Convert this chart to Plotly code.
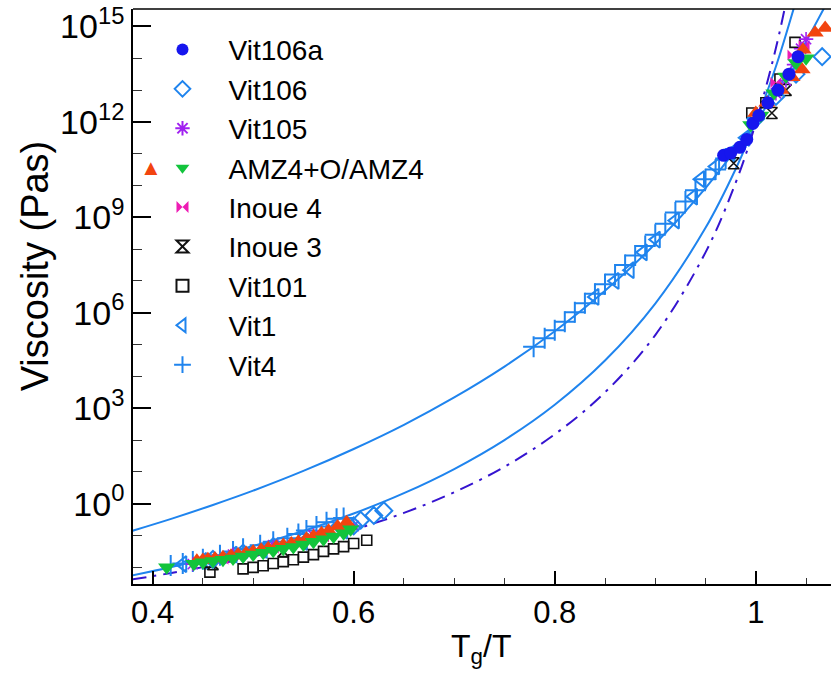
import numpy as np
import plotly.graph_objects as go

# ---------------- data (viscosity given as log10(Pa s)) -------------
# fit curves
upper_u = [0.38, 0.42, 0.46, 0.50, 0.55, 0.60, 0.65, 0.70, 0.75, 0.80, 0.85, 0.90, 0.95, 1.00, 1.03, 1.05, 1.07]
upper_log = [-0.85, -0.46, -0.04, 0.41, 1.03, 1.72, 2.48, 3.34, 4.31, 5.42, 6.69, 8.17, 9.92, 12.00, 13.45, 14.53, 15.70]

lower_u = [0.38, 0.42, 0.46, 0.50, 0.55, 0.60, 0.65, 0.70, 0.75, 0.80, 0.85, 0.90, 0.95, 0.98, 1.00, 1.02, 1.04]
lower_log = [-2.25, -1.98, -1.67, -1.33, -0.86, -0.31, 0.33, 1.09, 2.00, 3.11, 4.50, 6.29, 8.67, 10.52, 12.00, 13.74, 15.81]

dashdot_u = [0.38, 0.42, 0.46, 0.50, 0.55, 0.60, 0.65, 0.70, 0.75, 0.80, 0.85, 0.90, 0.95, 0.98, 1.00, 1.02, 1.035]
dashdot_log = [-2.38, -2.17, -1.93, -1.66, -1.27, -0.82, -0.29, 0.36, 1.16, 2.18, 3.50, 5.30, 7.90, 10.09, 11.97, 14.32, 16.53]

# measured series
vit106a_u = [0.968, 0.975, 0.984, 0.991, 0.997, 1.003, 1.012, 1.022, 1.033, 1.042]
vit106a_log = [10.95, 11.02, 11.2, 11.45, 11.95, 12.2, 12.6, 13.0, 13.5, 14.05]

vit106_u = [0.46, 0.49, 0.52, 0.55, 0.58, 0.60, 0.607, 0.62, 0.63, 1.00, 1.02, 1.04, 1.066]
vit106_log = [-1.75, -1.55, -1.35, -1.15, -0.9, -0.7, -0.52, -0.37, -0.22, 12.1, 12.8, 13.5, 14.05]

vit105_u = [0.44, 0.48, 0.52, 0.56, 0.60, 1.02, 1.03, 1.038, 1.045, 1.05]
vit105_log = [-1.9, -1.6, -1.3, -1.0, -0.7, 12.9, 13.3, 13.8, 14.3, 14.6]

amz4o_u = [0.444, 0.45, 0.455, 0.462, 0.47, 0.478, 0.485, 0.493, 0.50, 0.508, 0.515, 0.523, 0.53, 0.538,
           0.545, 0.553, 0.56, 0.568, 0.575, 0.584, 0.593,
           1.00, 1.011, 1.025, 1.036, 1.046, 1.047, 1.059, 1.069]
amz4o_log = [-1.79, -1.77, -1.75, -1.72, -1.68, -1.64, -1.6, -1.55, -1.5, -1.45, -1.4, -1.35, -1.3, -1.25,
             -1.2, -1.1, -1.02, -0.93, -0.85, -0.72, -0.58,
             12.28, 12.6, 13.0, 13.4, 13.65, 14.27, 14.8, 14.95]

amz4_u = [0.414, 0.441, 0.45, 0.46, 0.47, 0.48, 0.49, 0.50, 0.51, 0.52, 0.53, 0.54, 0.55, 0.56,
          0.57, 0.58, 0.59, 0.597,
          0.995, 1.005, 1.018, 1.03, 1.04, 1.05]
amz4_log = [-2.0, -1.89, -1.84, -1.8, -1.76, -1.72, -1.66, -1.6, -1.54, -1.48, -1.42, -1.36, -1.28, -1.2,
            -1.12, -1.03, -0.93, -0.8,
            11.9, 12.2, 12.9, 13.43, 13.85, 14.0]

inoue4_u = [0.47, 0.52, 0.57, 1.02, 1.037, 1.048]
inoue4_log = [-1.75, -1.4, -1.05, 13.24, 14.1, 14.4]

inoue3_u = [0.46, 0.53, 0.978, 1.016, 1.03]
inoue3_log = [-1.9, -1.5, 10.7, 12.28, 13.0]

vit101_u = [0.457, 0.49, 0.50, 0.51, 0.52, 0.53, 0.54, 0.55, 0.56, 0.57, 0.58, 0.59, 0.60, 0.613,
            0.996, 1.01, 1.024, 1.039]
vit101_log = [-2.15, -2.05, -2.0, -1.95, -1.88, -1.82, -1.76, -1.68, -1.6, -1.5, -1.42, -1.35, -1.25, -1.15,
              12.28, 12.6, 13.35, 14.5]

vit1_u = [0.43, 0.45, 0.48, 0.51, 0.55, 0.59,
          0.84, 0.86, 0.875, 0.888, 0.901, 0.92, 0.938, 0.945, 0.96, 0.975, 0.99]
vit1_log = [-1.9, -1.8, -1.6, -1.45, -1.2, -0.85,
            6.5, 7.0, 7.34, 7.9, 8.3, 8.9, 9.65, 10.2, 10.6, 11.0, 11.5]

vit4_u = [0.418, 0.43, 0.44, 0.45, 0.467, 0.48, 0.49, 0.507, 0.52, 0.534, 0.545, 0.553, 0.563, 0.573, 0.583, 0.59,
          0.779, 0.79, 0.80, 0.81, 0.82, 0.83, 0.84, 0.85, 0.86, 0.87, 0.88, 0.89, 0.90, 0.91, 0.92, 0.93,
          0.94, 0.95, 0.96, 0.97]
vit4_log = [-1.94, -1.88, -1.82, -1.75, -1.62, -1.5, -1.42, -1.31, -1.2, -1.09, -0.95, -0.84, -0.72, -0.58, -0.47, -0.45,
            4.93, 5.2, 5.45, 5.72, 6.02, 6.3, 6.6, 6.9, 7.2, 7.5, 7.8, 8.1, 8.45, 8.8, 9.15, 9.5,
            9.85, 10.2, 10.5, 10.85]

y_tick_exps = [0, 3, 6, 9, 12, 15]
x_tick_vals = [0.4, 0.6, 0.8, 1.0]
x_tick_text = ["0.4", "0.6", "0.8", "1"]


def eta(logs):
    return np.power(10.0, np.array(logs, dtype=float))


LINE_BLUE = "#1f84ee"
DASH_BLUE = "#3514d0"
FONT = "Liberation Sans, Arial, Helvetica, sans-serif"

fig = go.Figure()

# curves
fig.add_trace(go.Scatter(x=upper_u, y=eta(upper_log), mode="lines", line=dict(color=LINE_BLUE, width=2, shape="spline"),
                         showlegend=False, hoverinfo="skip"))
fig.add_trace(go.Scatter(x=lower_u, y=eta(lower_log), mode="lines", line=dict(color=LINE_BLUE, width=2, shape="spline"),
                         showlegend=False, hoverinfo="skip"))
fig.add_trace(go.Scatter(x=dashdot_u, y=eta(dashdot_log), mode="lines",
                         line=dict(color=DASH_BLUE, width=2, dash="14px,7px,3px,7px", shape="spline"),
                         showlegend=False, hoverinfo="skip"))

# (name, u, log, symbol, color, size, line width, legendrank, showlegend)
series = [
    ("Vit4", vit4_u, vit4_log, "cross-thin-open", LINE_BLUE, 15, 2, 9, True),
    ("Vit1", vit1_u, vit1_log, "triangle-left-open", LINE_BLUE, 14, 2, 8, True),
    ("Vit101", vit101_u, vit101_log, "square-open", "#111111", 10, 1.6, 7, True),
    ("Inoue 3", inoue3_u, inoue3_log, "hourglass-open", "#111111", 11, 1.6, 6, True),
    ("Inoue 4", inoue4_u, inoue4_log, "bowtie", "#ee1cb4", 11, 0, 5, True),
    ("Vit105", vit105_u, vit105_log, "asterisk-open", "#a020f0", 12, 1.6, 3, True),
    ("Vit106", vit106_u, vit106_log, "diamond-open", LINE_BLUE, 13, 2, 2, True),
    ("AMZ4+O", amz4o_u, amz4o_log, "triangle-up", "#f2440f", 15, 0, 4, False),
    ("AMZ4+O/AMZ4", amz4_u, amz4_log, "triangle-down", "#12c43c", 15, 0, 4, True),
    ("Vit106a", vit106a_u, vit106a_log, "circle", "#1616ee", 13, 0, 1, True),
]

for name, u, lg, sym, col, size, lw, rank, show in series:
    fig.add_trace(go.Scatter(
        x=u, y=eta(lg), mode="markers", name=name, showlegend=show, legendrank=rank,
        marker=dict(symbol=sym, color=col, size=size, line=dict(color=col, width=lw)),
    ))

fig.update_layout(
    width=831, height=674,
    margin=dict(l=133, r=0, t=9, b=90),
    paper_bgcolor="white", plot_bgcolor="white",
    font=dict(family=FONT, color="black", size=30),
    legend=dict(x=0.005, y=0.9726, xanchor="left", yanchor="top", bgcolor="rgba(0,0,0,0)",
                font=dict(size=28), itemwidth=82, tracegroupgap=0, itemsizing="constant"),
    xaxis=dict(
        range=[0.3805, 1.0748], showgrid=False, zeroline=False,
        showline=True, linecolor="black", linewidth=1.6,
        tickvals=x_tick_vals, ticktext=x_tick_text, ticks="inside", ticklen=13, tickwidth=1.5, tickcolor="black",
        tickfont=dict(size=31),
        minor=dict(ticks="inside", dtick=0.05, tick0=0.4, ticklen=6, tickwidth=1, tickcolor="#333"),
    ),
    yaxis=dict(
        type="log", range=[-2.524, 15.548], showgrid=False, zeroline=False,
        showline=True, linecolor="black", linewidth=1.6,
        tickvals=[10.0 ** e for e in y_tick_exps],
        ticktext=["10<sup>%d</sup>" % e for e in y_tick_exps],
        ticks="inside", ticklen=18, tickwidth=1.5, tickcolor="black",
        tickfont=dict(size=34),
        minor=dict(ticks="inside", dtick=1, tick0=0, ticklen=9, tickwidth=1, tickcolor="#333"),
    ),
    shapes=[dict(type="line", xref="paper", yref="paper", x0=0, x1=1, y0=1, y1=1,
                 line=dict(color="black", width=1.6))],
    annotations=[
        dict(text="Viscosity (Pas)", xref="paper", yref="paper", x=-0.14, y=0.553, textangle=-90,
             showarrow=False, xanchor="center", yanchor="middle", font=dict(size=38)),
        dict(text="T<sub>g</sub>/T", xref="paper", yref="paper", x=0.4988, y=-0.112,
             showarrow=False, xanchor="center", yanchor="middle", font=dict(size=32)),
        dict(text="▲", xref="paper", yref="paper", x=0.026, y=0.7236, showarrow=False,
             xanchor="center", yanchor="middle", font=dict(size=22, color="#f2440f")),
    ],
)

fig.write_html("out.html")
